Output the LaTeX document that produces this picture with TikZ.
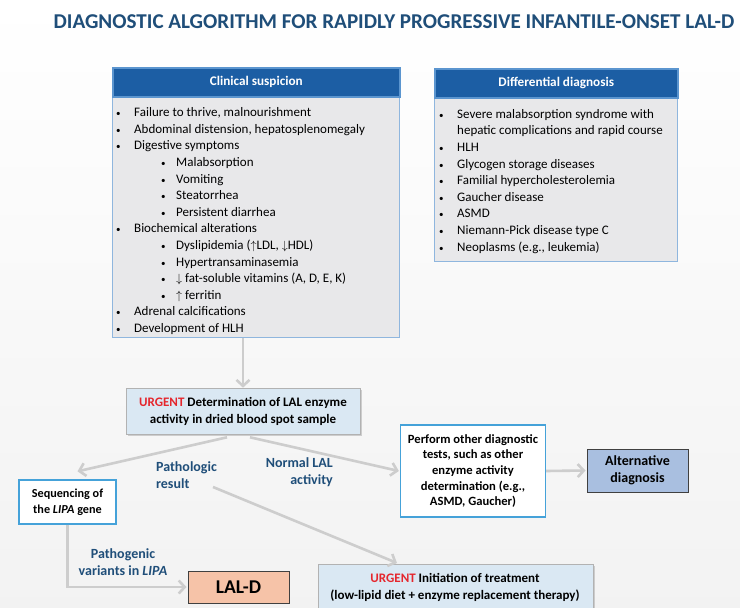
\documentclass[tikz,border=0pt]{standalone}
\usepackage{fontspec}
\setmainfont{Carlito}
\usetikzlibrary{arrows.meta,shadows}
\definecolor{titleblue}{HTML}{1F4E79}
\definecolor{hdrblue}{HTML}{1C5EA4}
\definecolor{hdredge}{HTML}{5B95CF}
\definecolor{bodygray}{HTML}{E8E8EA}
\definecolor{bodyborder}{HTML}{8FB6DE}
\definecolor{lblue}{HTML}{DAE8F3}
\definecolor{boxblue}{HTML}{45A2D9}
\definecolor{salmon}{HTML}{F6C3A8}
\definecolor{altblue}{HTML}{A9BFE0}
\definecolor{urgred}{HTML}{E5262D}
\definecolor{agray}{HTML}{CDCDCD}
\definecolor{dgray}{HTML}{404040}
\newcommand\bl{\makebox[18pt][l]{\small\textbullet}}
\newcommand\sbl{\hspace{45pt}\makebox[15pt][l]{\small\textbullet}}
\newcommand\urg{{\color{urgred}URGENT}}
\tikzset{
  titletxt/.style={font=\fontsize{21.1}{25}\selectfont\bfseries, text=titleblue, inner sep=0pt},
  hdr/.style={fill=hdrblue, draw=hdredge, line width=1.5pt, text=white, font=\fontsize{13.2}{15}\selectfont\bfseries, inner sep=0pt},
  bodybox/.style={fill=bodygray, draw=bodyborder, line width=1pt, inner sep=0pt},
  listtxt/.style={font=\fontsize{13}{16.6}\selectfont, align=left, inner sep=0pt},
  garrow/.style={draw=agray, line width=2.6pt, -{Straight Barb[length=6pt,width=13pt]}},
  shbox/.style={fill=lblue, draw=gray!60, line width=0.6pt, inner sep=0pt, drop shadow={shadow xshift=1.5pt, shadow yshift=-1.8pt, fill=gray!70}},
  wbox/.style={fill=white, draw=boxblue, line width=1.3pt, inner sep=0pt, align=center, font=\fontsize{12.2}{16}\selectfont\bfseries},
  lbl/.style={text=titleblue, font=\fontsize{14}{17}\selectfont\bfseries, inner sep=0pt},
}
\begin{document}
\begin{tikzpicture}[x=1pt,y=-1pt]
\useasboundingbox (0,0) rectangle (740,608);
\clip (0,0) rectangle (740,608);
\shade[top color=white, bottom color=black!5] (0,0) rectangle (740,608);

\node[titletxt] (title) at (394,22) {DIAGNOSTIC ALGORITHM FOR RAPIDLY PROGRESSIVE INFANTILE-ONSET LAL-D};

% Clinical suspicion
\node[bodybox, minimum width=287pt, minimum height=242pt, anchor=north west] (clinbody) at (112,95) {};
\node[hdr, minimum width=287pt, minimum height=29pt, anchor=north west] (clinhdr) at (112,67) {Clinical suspicion};
\node[listtxt, anchor=north west] (clinlist) at (116,107.5) {%
\bl Failure to thrive, malnourishment\\
\bl Abdominal distension, hepatosplenomegaly\\
\bl Digestive symptoms\\
\sbl Malabsorption\\
\sbl Vomiting\\
\sbl Steatorrhea\\
\sbl Persistent diarrhea\\
\bl Biochemical alterations\\
\sbl Dyslipidemia ($\uparrow$LDL, $\downarrow$HDL)\\
\sbl Hypertransaminasemia\\
\sbl $\downarrow$ fat-soluble vitamins (A, D, E, K)\\
\sbl $\uparrow$ ferritin\\
\bl Adrenal calcifications\\
\bl Development of HLH};

% Differential diagnosis
\node[bodybox, minimum width=243pt, minimum height=165pt, anchor=north west] (diffbody) at (434,96) {};
\node[hdr, minimum width=243pt, minimum height=29pt, anchor=north west] (diffhdr) at (434,68) {Differential diagnosis};
\node[listtxt, anchor=north west] (difflist) at (439,109) {%
\bl Severe malabsorption syndrome with\\
\hspace*{18pt}hepatic complications and rapid course\\
\bl HLH\\
\bl Glycogen storage diseases\\
\bl Familial hypercholesterolemia\\
\bl Gaucher disease\\
\bl ASMD\\
\bl Niemann-Pick disease type C\\
\bl Neoplasms (e.g., leukemia)};

% URGENT determination
\node[shbox, minimum width=234pt, minimum height=46pt, align=center, font=\fontsize{13}{17}\selectfont\bfseries] (urgdet) at (243,411) {\urg{} Determination of LAL enzyme\\activity in dried blood spot sample};

% Sequencing
\node[wbox, minimum width=97pt, minimum height=44pt] (seq) at (67.5,502) {Sequencing of\\the \textit{LIPA} gene};

% Perform other tests
\node[wbox, minimum width=145pt, minimum height=92pt, font=\fontsize{12.6}{15.7}\selectfont\bfseries] (perf) at (473,471) {Perform other diagnostic\\tests, such as other\\enzyme activity\\determination (e.g.,\\ASMD, Gaucher)};

% Alternative diagnosis
\node[fill=altblue, draw=dgray, line width=1pt, minimum width=101pt, minimum height=43pt, inner sep=0pt, align=center, font=\fontsize{14}{17}\selectfont\bfseries] (alt) at (637.5,470.5) {Alternative\\diagnosis};

% LAL-D
\node[fill=salmon, draw=dgray, line width=1pt, minimum width=101pt, minimum height=32pt, inner sep=0pt, font=\fontsize{19.5}{22}\selectfont\bfseries] (lald) at (238.5,587) {LAL-D};

% Treatment
\node[shbox, minimum width=275pt, minimum height=56pt, anchor=north west] (treat) at (318,564) {};
\node[align=center, inner sep=0pt, font=\fontsize{13}{17}\selectfont\bfseries] (treattxt) at (455,587.5) {\urg{} Initiation of treatment\\(low-lipid diet + enzyme replacement therapy)};

% Labels
\node[lbl, align=left] (lpath) at (186.5,475.5) {Pathologic\\result};
\node[lbl, align=right, anchor=east] (lnorm) at (333,472.5) {Normal LAL\\activity};
\node[lbl, align=center] (lvar) at (123,562.5) {Pathogenic\\variants in \textit{LIPA}};
\coordinate (pstart) at (213,487);

% Connectors
\draw[garrow] (urgdet.north |- clinbody.south) -- (urgdet.north);
\draw[garrow] ([xshift=-16pt,yshift=-3pt]urgdet.south) -- ([xshift=10pt,yshift=8pt]seq.north);
\draw[garrow] ([xshift=7pt,yshift=-3pt]urgdet.south) -- ([xshift=-1pt]perf.west);
\draw[garrow] (pstart) -- ([xshift=79pt,yshift=1pt]treat.north west);
\draw[garrow] (seq.south) |- ([xshift=-1pt]lald.west);
\draw[garrow] (perf.east) -- ([xshift=-1pt]alt.west);
\end{tikzpicture}
\end{document}
